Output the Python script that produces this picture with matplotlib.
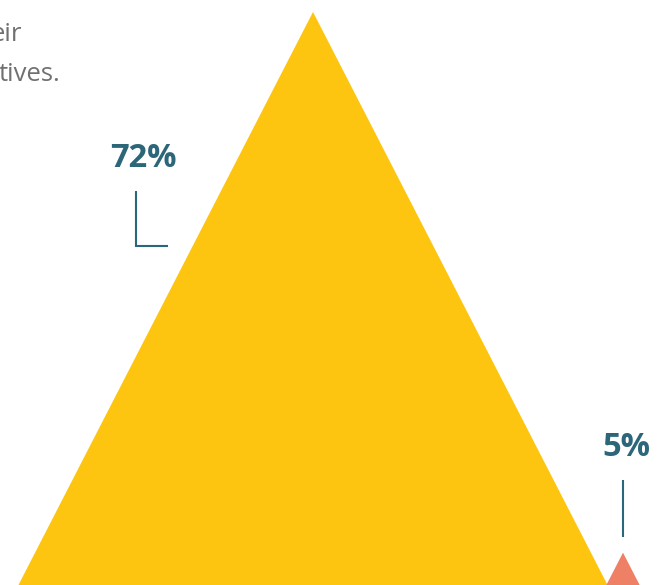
import matplotlib
matplotlib.use("Agg")
import matplotlib.pyplot as plt
from matplotlib.patches import Polygon

# Share of respondents per group, drawn as triangles whose height is the value
categories = ["Group A", "Group B"]
values = [72, 5]
labels = ["72%", "5%"]
colors = ["#FDC50F", "#EE8065"]

TEAL = "#2B6679"
GREY = "#707070"

W, H, DPI = 664, 585, 100
fig = plt.figure(figsize=(W / DPI, H / DPI), dpi=DPI)
ax = fig.add_axes([0, 0, 1, 1])

# data units: one unit ~ 8.07 px on both axes (equal aspect)
px = 8.07
y0 = 8 / px                      # baseline sits just below the lower edge
ax.set_ylim(y0, y0 + H / px)
ax.set_xlim(0, W / px)
ax.axis("off")

slope = 0.514                    # half-width per unit of height
centers = [313 / px, 623 / px]

for cx, v, c in zip(centers, values, colors):
    hw = v * slope
    ax.add_patch(Polygon([(cx - hw, 0), (cx, v), (cx + hw, 0)],
                         closed=True, facecolor=c, edgecolor="none"))

def ypx(p):
    return y0 + (H - p) / px

def xpx(p):
    return p / px

# value labels with leader lines
ax.text(xpx(143), ypx(158), labels[0], ha="center", va="center",
        fontsize=23.5, fontweight="bold", color=TEAL, family="Open Sans")
ax.plot([xpx(136), xpx(136), xpx(168)], [ypx(191), ypx(246), ypx(246)],
        color=TEAL, lw=1.5, solid_capstyle="butt", solid_joinstyle="miter")

ax.text(xpx(626), ypx(448), labels[1], ha="center", va="center",
        fontsize=23.5, fontweight="bold", color=TEAL, family="Open Sans")
ax.plot([xpx(623), xpx(623)], [ypx(480), ypx(537)],
        color=TEAL, lw=1.5, solid_capstyle="butt")

# tail of the intro sentence along the left edge
ax.text(xpx(22), ypx(41), "eir", ha="right", va="baseline",
        fontsize=18.5, color=GREY, family="Open Sans")
ax.text(xpx(-1), ypx(81), "tives.", ha="left", va="baseline",
        fontsize=18.5, color=GREY, family="Open Sans")

fig.savefig("out.png", dpi=DPI)
